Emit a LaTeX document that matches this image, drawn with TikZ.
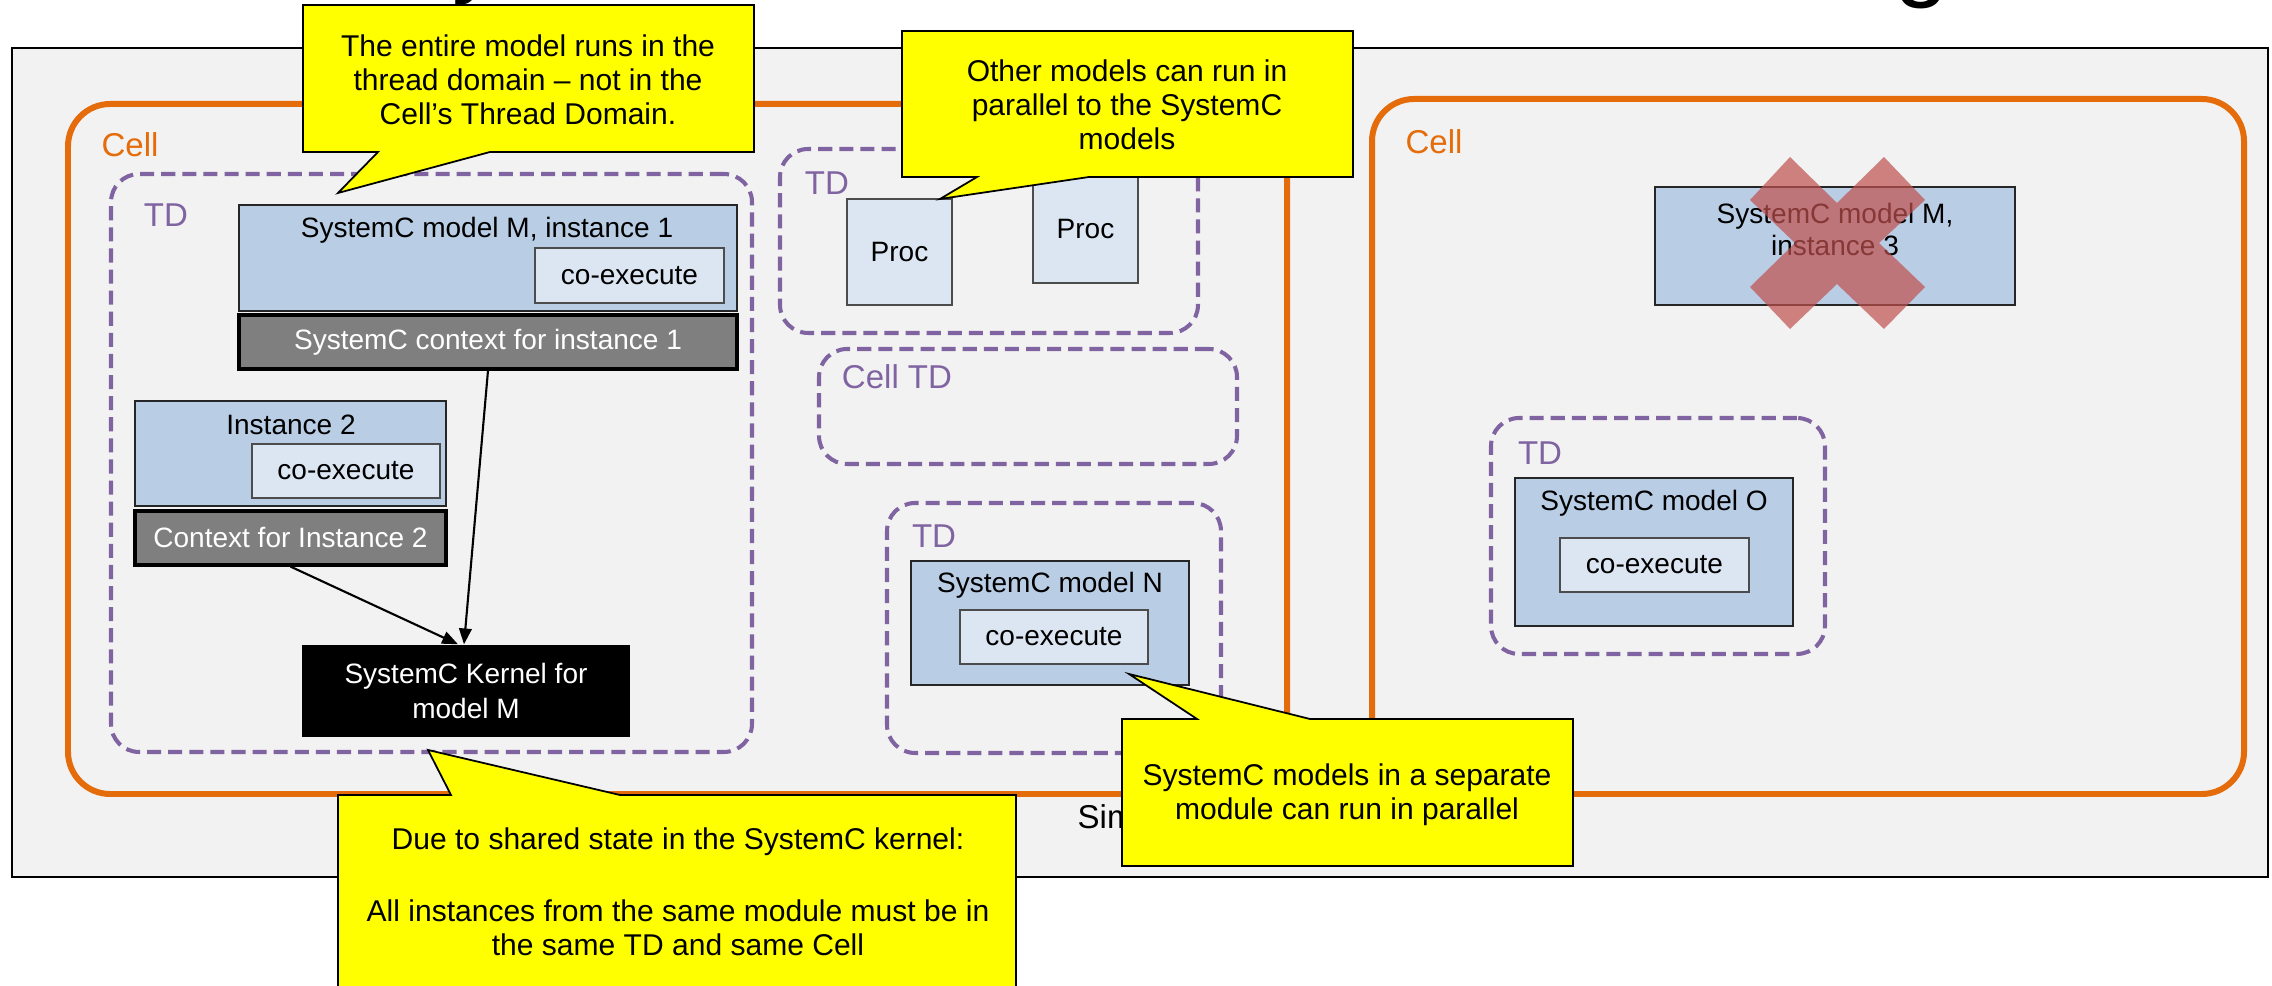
\documentclass[tikz,border=0pt]{standalone}
\usepackage{fontspec}
\setmainfont{Liberation Sans}
\usetikzlibrary{fit,arrows.meta}

\definecolor{simgray}{HTML}{F2F2F2}
\definecolor{cellorange}{HTML}{E46C0A}
\definecolor{tdpurple}{HTML}{8064A2}
\definecolor{modelblue}{HTML}{B9CDE5}
\definecolor{execblue}{HTML}{DCE6F2}
\definecolor{ctxgray}{HTML}{7F7F7F}
\definecolor{crossred}{HTML}{C0504D}
\definecolor{noteyellow}{HTML}{FFFF00}

\newcommand\fsbox{\fontsize{7.97pt}{9.6pt}\selectfont}
\newcommand\fskern{\fontsize{7.97pt}{9.96pt}\selectfont}
\newcommand\fsnote{\fontsize{8.54pt}{9.7pt}\selectfont}
\newcommand\fslab{\fontsize{9.39pt}{11pt}\selectfont}
\newcommand\fstitle{\fontsize{28pt}{30pt}\selectfont}

\begin{document}
\begin{tikzpicture}[x=0.01cm,y=-0.01cm,
  simbox/.style={draw=black, line width=0.7pt, fill=simgray, inner sep=0pt},
  cellbox/.style={draw=cellorange, line width=1.7pt, rounded corners=12pt, inner sep=0pt},
  tdbox/.style={draw=tdpurple, line width=1.15pt, dash pattern=on 4pt off 2pt, rounded corners=8pt, inner sep=0pt},
  modelbox/.style={draw=black!85, line width=0.6pt, fill=modelblue, inner sep=0pt},
  execbox/.style={draw=black!70, line width=0.5pt, fill=execblue, inner sep=0pt},
  ctxbox/.style={draw=black, line width=0.9pt, fill=ctxgray, inner sep=0pt},
  kernelbox/.style={fill=black, inner sep=0pt},
  boxtext/.style={font=\fsbox, inner sep=0pt, align=center},
  whitetext/.style={boxtext, text=white},
  tdlabel/.style={font=\fslab, text=tdpurple, inner sep=0pt},
  celllabel/.style={font=\fslab, text=cellorange, inner sep=0pt},
  note/.style={fill=noteyellow, draw=black, line width=0.5pt, line join=miter},
  notetext/.style={font=\fsnote, align=center, inner sep=0pt},
  link/.style={draw=black, line width=0.6pt, -{Triangle[length=4.5pt,width=3.6pt]}},
  cross/.style={fill=crossred, fill opacity=0.7, draw=none}
]
\useasboundingbox (0,0) rectangle (2272,986);
\fill[white] (0,0) rectangle (2272,986);

% heading glyphs running off the top edge
\node[anchor=base west, inner sep=0pt, font=\fstitle] (headA) at (452,-15) {y};
\node[anchor=base west, inner sep=0pt, font=\fstitle] (headB) at (1894,-11) {g};

% simulation frame
\node[simbox, fit={(12,48) (2268,877)}] (sim) {};
\node[anchor=west, inner sep=0pt, font=\fslab] (simlabel) at (1077,817) {Simulation};

% cells
\node[cellbox, fit={(68,104) (1287,794)}] (cellL) {};
\node[celllabel] (cellLlab) at (130,145) {Cell};
\node[cellbox, fit={(1372,99) (2244,794)}] (cellR) {};
\node[celllabel] (cellRlab) at (1434,142) {Cell};

% thread domains
\node[tdbox, fit={(111,174) (752,752)}] (tdM) {};
\node[tdlabel] (tdMlab) at (166,215) {TD};
\node[tdbox, fit={(780,149) (1198,333)}] (tdP) {};
\node[tdlabel] (tdPlab) at (827,183) {TD};
\node[tdbox, fit={(819,349) (1237,464)}] (tdC) {};
\node[tdlabel] (tdClab) at (897,377) {Cell TD};
\node[tdbox, fit={(887,503) (1221,753)}] (tdN) {};
\node[tdlabel] (tdNlab) at (934,536) {TD};
\node[tdbox, fit={(1491,418) (1825,654)}] (tdO) {};
\node[tdlabel] (tdOlab) at (1540,453) {TD};

% model M, instance 1
\node[modelbox, fit={(239,205) (737,311)}] (m1) {};
\node[boxtext] (m1t) at (487,230) {SystemC model M, instance 1};
\node[execbox, fit={(535,248) (724,303)}] (m1x) {};
\node[boxtext] at (m1x.center) {co-execute};
\node[ctxbox, fit={(239,315) (737,369)}] (ctx1) {};
\node[whitetext] at (ctx1.center) {SystemC context for instance 1};

% model M, instance 2
\node[modelbox, fit={(135,401) (446,506)}] (m2) {};
\node[boxtext] (m2t) at (291,425) {Instance 2};
\node[execbox, fit={(252,444) (440,498)}] (m2x) {};
\node[boxtext] at (m2x.center) {co-execute};
\node[ctxbox, fit={(135,511) (446,565)}] (ctx2) {};
\node[whitetext] at (ctx2.center) {Context for Instance 2};

% shared kernel
\node[kernelbox, fit={(302,645) (630,737)}] (kern) {};
\node[whitetext, font=\fskern] (kernt) at (kern.center) {SystemC Kernel for\\model M};

\draw[link] (ctx1.south) -- ([xshift=-0.02cm]kern.north);
\draw[link] (ctx2.south) -- ([xshift=-0.08cm]kern.north);

% processors
\node[execbox, fit={(847,199) (952,305)}] (proc1) {};
\node[boxtext] at (proc1.center) {Proc};
\node[execbox, fit={(1033,175) (1138,283)}] (proc2) {};
\node[boxtext] at (proc2.center) {Proc};

% model N
\node[modelbox, fit={(911,561) (1189,685)}] (mN) {};
\node[boxtext] (mNt) at (1050,585) {SystemC model N};
\node[execbox, fit={(960,610) (1148,664)}] (mNx) {};
\node[boxtext] at (mNx.center) {co-execute};

% model O
\node[modelbox, fit={(1515,478) (1793,626)}] (mO) {};
\node[boxtext] (mOt) at (1654,503) {SystemC model O};
\node[execbox, fit={(1560,538) (1749,592)}] (mOx) {};
\node[boxtext] at (mOx.center) {co-execute};

% model M, instance 3 (not allowed here)
\node[modelbox, fit={(1655,187) (2015,305)}] (m3) {};
\node[boxtext, font=\fontsize{7.97pt}{9.1pt}\selectfont] (m3t) at (1835,229) {SystemC model M,\\instance 3};
\fill[cross] (1790,157) -- (1837,203) -- (1884,157) -- (1925,200) -- (1879,243)
  -- (1925,287) -- (1884,329) -- (1837,284) -- (1790,329) -- (1750,287)
  -- (1795,243) -- (1750,200) -- cycle;

% callouts
\filldraw[note] (303,5) -- (754,5) -- (754,152) -- (490,152) -- (338,193)
  -- (378,152) -- (303,152) -- cycle;
\node[notetext] (n1) at (528,80) {The entire model runs in the\\thread domain -- not in the\\Cell’s Thread Domain.};

\filldraw[note] (902,31) -- (1353,31) -- (1353,177) -- (1089,177) -- (940,199)
  -- (977,177) -- (902,177) -- cycle;
\node[notetext] (n2) at (1127,105) {Other models can run in\\parallel to the SystemC\\models};

\filldraw[note] (338,795) -- (451,795) -- (428,750) -- (620,795) -- (1016,795)
  -- (1016,1000) -- (338,1000) -- cycle;
\node[notetext] (n3) at (678,892) {Due to shared state in the SystemC kernel:\\[10.8pt]All instances from the same module must be in\\the same TD and same Cell};

\filldraw[note] (1122,719) -- (1197,719) -- (1129,674) -- (1310,719) -- (1573,719)
  -- (1573,866) -- (1122,866) -- cycle;
\node[notetext] (n4) at (1347,795) {SystemC models in a separate\\module can run in parallel};
\end{tikzpicture}
\end{document}
